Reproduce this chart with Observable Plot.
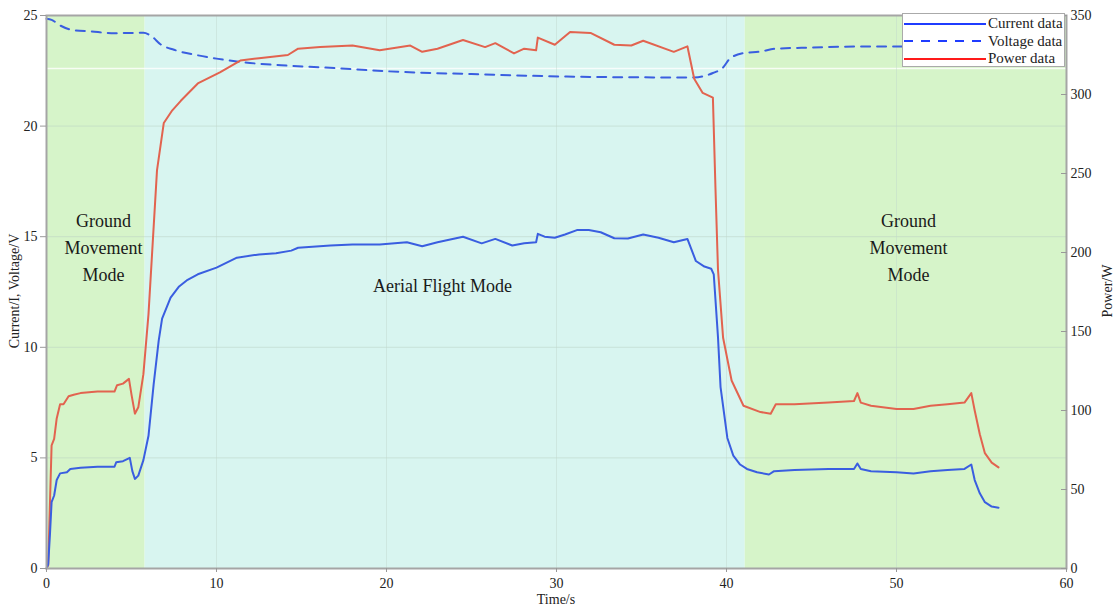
<!DOCTYPE html>
<html>
<head>
<meta charset="utf-8">
<script src="https://cdn.jsdelivr.net/npm/d3@7"></script>
<script src="https://cdn.jsdelivr.net/npm/@observablehq/plot@0.6"></script>
<style>
  body { margin: 0; background: #fff; }
  #wrap { position: relative; width: 1119px; height: 610px; font-family: "Liberation Serif", serif; }
  #legend { position: absolute; left: 902px; top: 13px; width: 163px; height: 54px; background: #fff; border: 1px solid #aaa; box-sizing: border-box; font-size: 15px; color: #222; }
  .row { display: flex; align-items: center; height: 17.5px; }
  .row svg { margin-left: 1px; margin-right: 2px; }
  .ylab { position: absolute; font-size: 14px; color: #222; white-space: nowrap; }
</style>
</head>
<body>
<div id="wrap"></div>
<script>
// ---- data ----
const timeTicks = [0, 10, 20, 30, 40, 50, 60];
const leftTicks = [0, 5, 10, 15, 20, 25];
const powerTicks = [0, 50, 100, 150, 200, 250, 300, 350];
const whiteGuide = [22.6];

const modeNames = ["Ground", "Aerial", "Ground"];
const modeStart = [0, 5.8, 41.1];
const modeEnd = [5.8, 41.1, 60];

const labelTexts = ["Ground\nMovement\nMode", "Aerial Flight Mode", "Ground\nMovement\nMode"];
const labelTime = [3.35, 23.3, 50.7];
const labelLevel = [14.6, 12.9, 14.6];

const currentTime = [0,0.1,0.2,0.3,0.45,0.6,0.8,1.2,1.4,2,3,4,4.1,4.5,4.9,5.05,5.2,5.4,5.7,6.0,6.3,6.6,6.8,7.3,7.8,8.3,8.9,10,11.2,12.5,13.5,14.4,14.8,16.7,18,19.6,21.2,22.1,23,24.5,25.6,26.4,27.4,28.1,28.8,28.9,29.3,29.9,30.5,31.2,31.9,32.6,33.4,34.2,35.1,36,36.9,37.7,38.2,38.7,39.1,39.25,39.5,39.65,40.05,40.4,40.8,41.2,41.8,42.5,42.8,44,46,47.5,47.7,47.9,48.5,50,51,52,53,54,54.4,54.6,54.9,55.2,55.6,56];
const currentValue = [0,0.2,1.5,3.0,3.3,4.0,4.3,4.35,4.5,4.55,4.6,4.6,4.8,4.85,5.0,4.4,4.05,4.2,4.9,6.0,8.3,10.3,11.3,12.25,12.75,13.05,13.3,13.6,14.05,14.2,14.25,14.37,14.5,14.6,14.65,14.65,14.75,14.57,14.75,15.0,14.7,14.9,14.6,14.7,14.75,15.13,15.0,14.95,15.1,15.3,15.3,15.2,14.93,14.92,15.1,14.95,14.75,14.9,13.9,13.65,13.55,13.3,10.45,8.2,5.9,5.1,4.7,4.5,4.35,4.25,4.4,4.45,4.5,4.5,4.75,4.5,4.4,4.35,4.3,4.4,4.45,4.5,4.7,4.0,3.4,3.0,2.8,2.75];

const powerTime = [0,0.1,0.2,0.3,0.45,0.6,0.8,1.0,1.3,1.6,2,3,4,4.15,4.5,4.85,5.0,5.2,5.4,5.7,6.0,6.5,6.9,7.4,7.9,8.9,10.2,11.4,12.5,14.2,14.8,16.1,18,19.6,21.4,22.1,23,24.5,25.8,26.4,27.5,28.1,28.8,28.9,29.9,30.8,32,33.4,34.4,35.1,36.9,37.7,38.1,38.6,39.2,39.35,39.5,39.8,40.3,41,42,42.6,42.9,44,46,47.5,47.7,47.9,48.5,50,51,52,53,54,54.4,54.6,54.9,55.2,55.6,56];
const powerValue = [0,2,40,78,82,95,104,104,109,110,111,112,112,116,117,120,110,98,102,123,161,252,282,290,296,307,314,321.5,323,325,329,330,331,328,331,327,329,334.5,330,332.5,326,329,328,336,331.5,339.5,339,331.5,331,334,327,330.5,310,301,298,241,189,146,119,103,99,98,104,104,105,106,111,105,103,101,101,103,104,105,111,100,85,73,67,64];

const voltageTime = [0,0.3,0.8,1.5,2.6,4,5.7,6.2,6.7,7.5,8.9,10,11.4,13.8,16.3,20,25,30.6,37.3,38.1,39.2,39.8,40.2,41,42,42.9,45,48,50,53,56];
const voltageValue = [24.85,24.8,24.55,24.35,24.28,24.2,24.22,24.05,23.7,23.45,23.2,23.05,22.9,22.75,22.65,22.48,22.35,22.24,22.2,22.2,22.4,22.65,23.05,23.3,23.37,23.5,23.55,23.6,23.6,23.65,23.7];

// ---- build tables ----
const POWER_PER_UNIT = 350 / 25; // right axis (W) mapped onto the left axis range
const modes = modeNames.map((n, i) => ({name: n, x1: modeStart[i], x2: modeEnd[i]}));
const labels = labelTexts.map((t, i) => ({text: t, x: labelTime[i], y: labelLevel[i]}));
const current = currentTime.map((t, i) => ({t, v: currentValue[i]}));
const power = powerTime.map((t, i) => ({t, p: powerValue[i]}));
const voltage = voltageTime.map((t, i) => ({t, v: voltageValue[i]}));

const BLUE = "#3a5ee0";
const RED = "#e2634f";
const modeColor = {Ground: "#d6f4c9", Aerial: "#d8f5f0"};

const chart = Plot.plot({
  width: 1119,
  height: 610,
  marginLeft: 46,
  marginRight: 53,
  marginTop: 15,
  marginBottom: 42,
  style: {fontFamily: "Liberation Serif, serif", fontSize: "14px", color: "#222", background: "transparent"},
  x: {domain: [0, 60]},
  y: {domain: [0, 25]},
  marks: [
    Plot.rect(modes, {x1: "x1", x2: "x2", y1: 0, y2: 25, fill: d => modeColor[d.name]}),
    Plot.ruleY(leftTicks.slice(1, -1), {stroke: "#b9cfc4", strokeOpacity: 0.5, strokeWidth: 1}),
    Plot.ruleY(whiteGuide, {stroke: "#ffffff", strokeOpacity: 0.8, strokeWidth: 1.5}),
    Plot.ruleX(timeTicks.slice(1, -1), {stroke: "#c2d6cc", strokeOpacity: 0.45, strokeWidth: 1}),
    Plot.text(labels, {x: "x", y: "y", text: "text", fontSize: 18, lineHeight: 1.5, lineAnchor: "middle", fill: "#1a1a1a"}),
    Plot.line(voltage, {x: "t", y: "v", stroke: BLUE, strokeWidth: 2, strokeDasharray: "9,7", curve: "monotone-x"}),
    Plot.line(power, {x: "t", y: d => d.p / POWER_PER_UNIT, stroke: RED, strokeWidth: 2}),
    Plot.line(current, {x: "t", y: "v", stroke: BLUE, strokeWidth: 2}),
    Plot.frame({stroke: "#a5a5a5", strokeWidth: 2}),
    Plot.axisX({ticks: timeTicks, tickSize: 4, tickPadding: 6, label: null, stroke: "#999", fontSize: 14}),
    Plot.axisY({anchor: "left", ticks: leftTicks, tickSize: 6, tickPadding: 3, label: null, stroke: "#999", fontSize: 14}),
    Plot.axisY({anchor: "right", ticks: powerTicks.map(p => p / POWER_PER_UNIT), tickFormat: v => Math.round(v * POWER_PER_UNIT), tickSize: -6, tickPadding: 10, label: null, stroke: "#999", fontSize: 14})
  ]
});

const wrap = document.getElementById("wrap");
wrap.appendChild(chart);

// axis titles
const yl = document.createElement("div");
yl.className = "ylab";
yl.textContent = "Current/I, Voltage/V";
yl.style.left = "15px"; yl.style.top = "291px";
yl.style.transform = "translate(-50%,-50%) rotate(-90deg)";
wrap.appendChild(yl);

const yr = document.createElement("div");
yr.className = "ylab";
yr.textContent = "Power/W";
yr.style.left = "1108px"; yr.style.top = "291px";
yr.style.transform = "translate(-50%,-50%) rotate(-90deg)";
wrap.appendChild(yr);

const xl = document.createElement("div");
xl.className = "ylab";
xl.textContent = "Time/s";
xl.style.left = "556px"; xl.style.top = "600px";
xl.style.transform = "translate(-50%,-50%)";
wrap.appendChild(xl);

// legend
const legendItems = [
  {name: "Current data", color: "#1f3cff", dash: null},
  {name: "Voltage data", color: "#1f3cff", dash: "9,8"},
  {name: "Power data", color: "#ff1a1a", dash: null}
];
const leg = document.createElement("div");
leg.id = "legend";
leg.style.paddingTop = "1px";
for (const it of legendItems) {
  const row = document.createElement("div");
  row.className = "row";
  row.innerHTML = `<svg width="82" height="8"><line x1="0" y1="4" x2="82" y2="4" stroke="${it.color}" stroke-width="2.2" ${it.dash ? `stroke-dasharray="${it.dash}"` : ""}/></svg><span>${it.name}</span>`;
  leg.appendChild(row);
}
wrap.appendChild(leg);
</script>
</body>
</html>
